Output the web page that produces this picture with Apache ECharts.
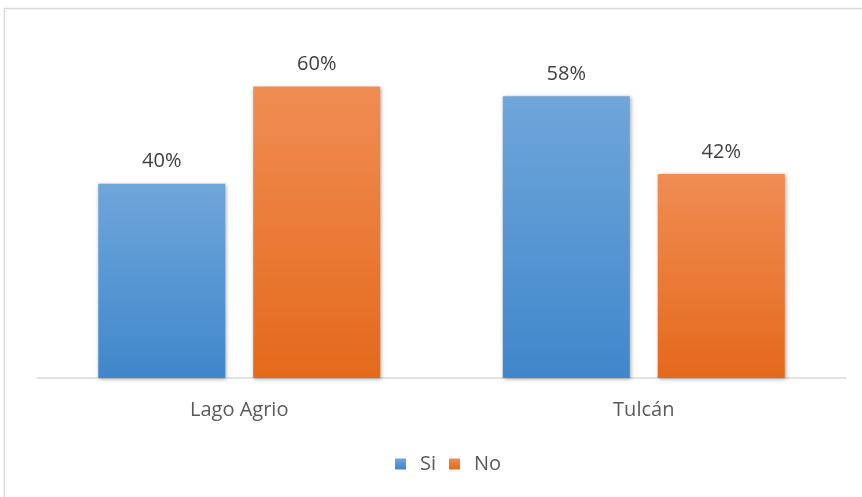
<!DOCTYPE html>
<html><head><meta charset="utf-8">
<script src="https://cdn.jsdelivr.net/npm/echarts@6/dist/echarts.min.js"></script>
<style>html,body{margin:0;padding:0;background:#fff}#c{width:862px;height:497px}</style>
</head><body><div id="c"></div>
<script>
const categories = ['Lago Agrio', 'Tulcán'];
const seriesNames = ['Si', 'No'];
const siValues = [0.40, 0.58];
const noValues = [0.60, 0.42];

const chart = echarts.init(document.getElementById('c'));
const font = '"Open Sans", sans-serif';
function grad(top, bottom) {
  return new echarts.graphic.LinearGradient(0, 0, 0, 1, [{offset: 0, color: top}, {offset: 1, color: bottom}]);
}
const shadow = {shadowBlur: 4, shadowOffsetX: 1, shadowOffsetY: 1, shadowColor: 'rgba(0,0,0,0.35)'};
const label = {show: true, position: 'top', distance: 12, color: '#404040', fontSize: 20, fontFamily: font,
  formatter: p => Math.round(p.value * 100) + '%'};
chart.setOption({
  animation: false,
  graphic: [{type: 'rect', shape: {x: 4.5, y: 8.5, width: 880, height: 520}, style: {fill: 'none', stroke: '#d9d9d9', lineWidth: 1.5}, z: 0}],
  grid: {left: 37, right: 16, top: 38, bottom: 119},
  legend: {bottom: 18, left: 390, itemWidth: 11, itemHeight: 11, itemGap: 13,
    textStyle: {color: '#595959', fontSize: 20, fontFamily: font, padding: [0, 0, 0, 9]},
    data: seriesNames.map((n, i) => ({name: n, icon: 'rect', itemStyle: {color: grad(i ? '#f08d53' : '#6fa6da', i ? '#e4691b' : '#3f87cb')}}))},
  xAxis: {type: 'category', data: categories,
    axisLine: {lineStyle: {color: '#d9d9d9', width: 1.5}}, axisTick: {show: false},
    axisLabel: {color: '#595959', fontSize: 20, fontFamily: font, margin: 22}},
  yAxis: {type: 'value', min: 0, max: 0.7, show: false, splitLine: {show: false}},
  series: [
    {name: seriesNames[0], type: 'bar', data: siValues, barWidth: 127, barGap: '22%',
      itemStyle: Object.assign({color: grad('#6fa6da', '#3f87cb')}, shadow), label: label},
    {name: seriesNames[1], type: 'bar', data: noValues, barWidth: 127,
      itemStyle: Object.assign({color: grad('#f08d53', '#e4691b')}, shadow), label: label}
  ]
});
</script></body></html>
